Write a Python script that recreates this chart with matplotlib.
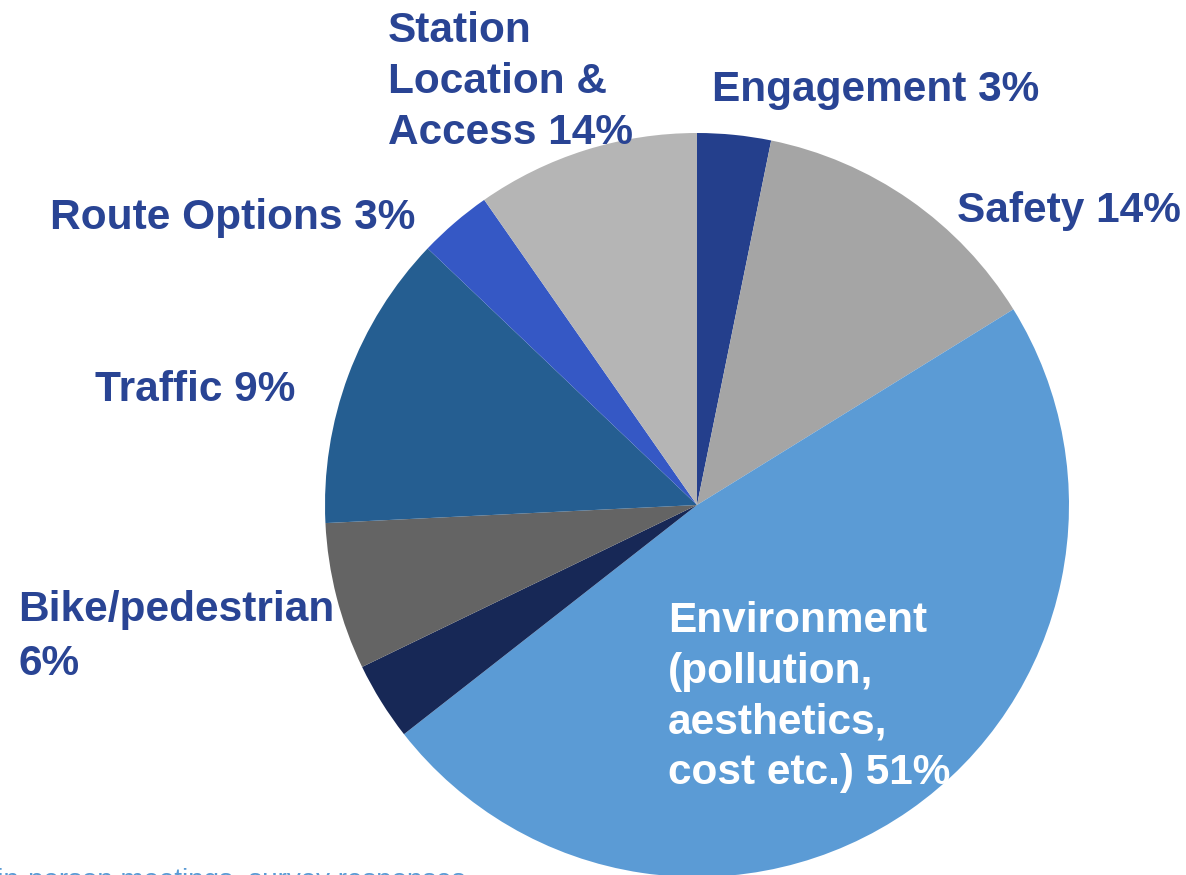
import matplotlib
matplotlib.use("Agg")
import matplotlib.pyplot as plt

# Data (slice sizes, clockwise from 12 o'clock)
categories = ["Engagement", "Safety", "Environment", "Other",
              "Bike/pedestrian", "Traffic", "Route Options",
              "Station Location & Access"]
values = [3.2, 13.0, 48.3, 3.4, 6.4, 12.9, 3.2, 9.7]
labels = ["Engagement 3%", "Safety 14%",
          "Environment\n(pollution,\naesthetics,\ncost etc.) 51%",
          "", "Bike/pedestrian\n6%", "Traffic 9%", "Route Options 3%",
          "Station\nLocation &\nAccess 14%"]
colors = ["#243F8C", "#A5A5A5", "#5B9BD5", "#172856",
          "#646464", "#255E91", "#3558C5", "#B5B5B5"]
footnote = "from in-person meetings, survey responses"

W, H = 1186, 875
fig = plt.figure(figsize=(W / 100, H / 100), dpi=100)
ax = fig.add_axes([0, 0, 1, 1])

cx, cy, r = 697, 505, 372
ax.pie(values, colors=colors, startangle=90, counterclock=False,
       center=(cx, H - cy), radius=r, frame=False,
       wedgeprops=dict(linewidth=0))
ax.set_xlim(0, W)
ax.set_ylim(0, H)
ax.set_aspect("equal")
ax.axis("off")

txt_color = "#294494"
fs = 30.5
font = "Liberation Sans"

# label placements: (left x px, top y px, color, linespacing)
pos = {
    0: (712, 70, txt_color, 1.0),
    1: (957, 191, txt_color, 1.0),
    2: (668, 601, "white", 1.34),
    4: (18, 590, txt_color, 1.45),
    5: (95, 370, txt_color, 1.0),
    6: (50, 198, txt_color, 1.0),
    7: (388, 11, txt_color, 1.35),
}
for i, (x, y, c, ls) in pos.items():
    ax.text(x, H - y, labels[i], ha="left", va="top", fontsize=fs,
            fontweight="bold", family=font, color=c, linespacing=ls)

ax.text(466, H - 888.5, footnote, ha="right", va="baseline", fontsize=20,
        family=font, color="#5B9BD5")

fig.savefig("out.png", dpi=100)
